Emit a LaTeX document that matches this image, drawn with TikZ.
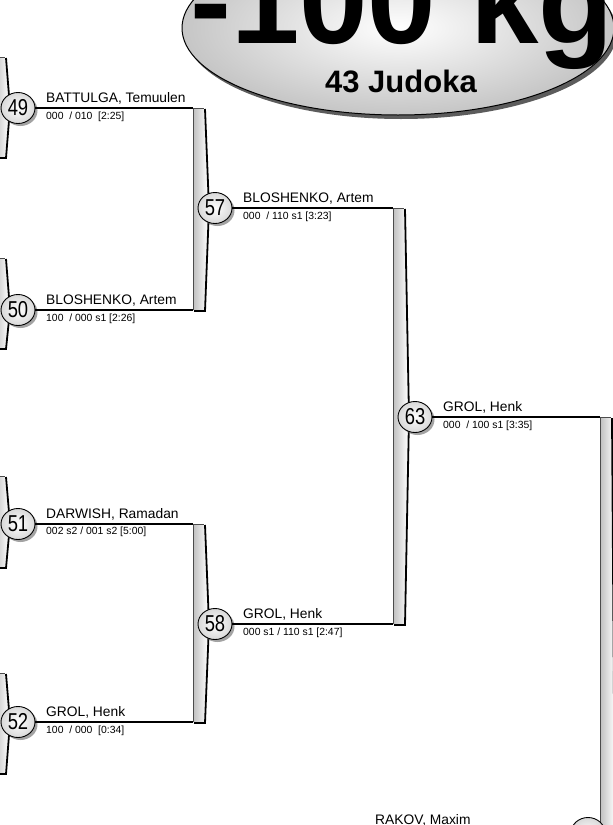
\documentclass[tikz,border=0pt]{standalone}
\usepackage{fontspec}
\setmainfont{Liberation Sans}
\usetikzlibrary{shapes.geometric,shadows}
\newcommand\matchnum[1]{\scalebox{0.8}[1]{#1}}
\newcommand\bracketbar[4]{%
  \path[left color=gray!50, right color=white] (#1,#2) -- ({#1+11},#2) -- ({#1+15},#3) -- ({#1+11},#4) -- (#1,#4) -- cycle;
  \draw[gray!60!black, line width=0.6pt] (#1,#4) -- (#1,#2) -- ({#1+11},#2);
  \draw[black, line width=1.8pt, line join=miter] ({#1+12},{#2+1}) -- ({#1+16},#3) -- ({#1+12},{#4+1}) -- ({#1+1},{#4+1});
}
\begin{document}
\begin{tikzpicture}[x=1pt,y=-1pt,
  match/.style={ellipse, draw=black, line width=0.9pt, minimum width=34pt, minimum height=31pt,
    inner sep=0pt, inner color=white, outer color=gray!30,
    drop shadow={shadow xshift=2.5pt, shadow yshift=-2.5pt, fill=black!60, opacity=0.6},
    font=\fontsize{23}{23}\selectfont},
  wline/.style={line width=1.6pt, black},
  pname/.style={anchor=base west, inner sep=0pt, font=\fontsize{13.8}{14}\selectfont},
  pscore/.style={anchor=base west, inner sep=0pt, font=\fontsize{10.4}{11}\selectfont}]
\useasboundingbox (0,0) rectangle (613,825);
\clip (0,0) rectangle (613,825);
\fill[white] (0,0) rectangle (613,825);

% title ellipse
\node[ellipse, draw=black, line width=1pt, minimum width=432pt, minimum height=174pt,
  inner color=white, outer color=gray!45,
  drop shadow={shadow xshift=3pt, shadow yshift=-4pt, fill=black!75, opacity=0.85}] (title) at (398,28) {};
\node[anchor=base, inner sep=0pt, font=\fontsize{123}{123}\selectfont\bfseries] (weight) at (402,43) {-100 kg};
\node[anchor=base, inner sep=0pt, font=\fontsize{31}{31}\selectfont\bfseries] (count) at (401,92) {43 Judoka};

% left column bars (cut)
\bracketbar{-6}{57}{108}{157}
\bracketbar{-6}{258}{310}{348}
\bracketbar{-6}{476}{524}{567}
\bracketbar{-6}{673}{722}{773}

% round bars
\bracketbar{193}{108}{208}{310}
\bracketbar{193}{524}{624}{722}
\bracketbar{393}{208}{417}{624}
\bracketbar{600}{417}{1000}{1600}

% matches round 1
\node[match] (m49) at (18,108) {\matchnum{49}};
\node[match] (m50) at (18,310) {\matchnum{50}};
\node[match] (m51) at (18,524) {\matchnum{51}};
\node[match] (m52) at (18,722) {\matchnum{52}};
\coordinate (e49) at (193,108);
\coordinate (e50) at (193,310);
\coordinate (e51) at (193,524);
\coordinate (e52) at (193,722);
\draw[wline] (m49.east) -- (e49);
\draw[wline] (m50.east) -- (e50);
\draw[wline] (m51.east) -- (e51);
\draw[wline] (m52.east) -- (e52);
\node[pname] (n49) at (46,102) {BATTULGA, Temuulen};
\node[pscore] (s49) at (46,119) {000\ \ / 010\ \ [2:25]};
\node[pname] (n50) at (46,304) {BLOSHENKO, Artem};
\node[pscore] (s50) at (46,321) {100\ \ / 000 s1 [2:26]};
\node[pname] (n51) at (46,518) {DARWISH, Ramadan};
\node[pscore] (s51) at (46,534) {002 s2 / 001 s2 [5:00]};
\node[pname] (n52) at (46,716) {GROL, Henk};
\node[pscore] (s52) at (46,733) {100\ \ / 000\ \ [0:34]};

% round 2
\node[match] (m57) at (215,208) {\matchnum{57}};
\node[match] (m58) at (215,624) {\matchnum{58}};
\coordinate (e57) at (393,208);
\coordinate (e58) at (393,624);
\draw[wline] (m57.east) -- (e57);
\draw[wline] (m58.east) -- (e58);
\node[pname] (n57) at (243,202) {BLOSHENKO, Artem};
\node[pscore] (s57) at (243,219) {000\ \ / 110 s1 [3:23]};
\node[pname] (n58) at (243,618) {GROL, Henk};
\node[pscore] (s58) at (243,635) {000 s1 / 110 s1 [2:47]};

% round 3
\node[match] (m63) at (415,417) {\matchnum{63}};
\coordinate (e63) at (600,417);
\draw[wline] (m63.east) -- (e63);
\node[pname] (n63) at (443,411) {GROL, Henk};
\node[pscore] (s63) at (443,428) {000\ \ / 100 s1 [3:35]};

% bottom partial
\node[match] (mlow) at (588,833) {};
\node[pname] (nrakov) at (375,824) {RAKOV, Maxim};
\end{tikzpicture}
\end{document}
